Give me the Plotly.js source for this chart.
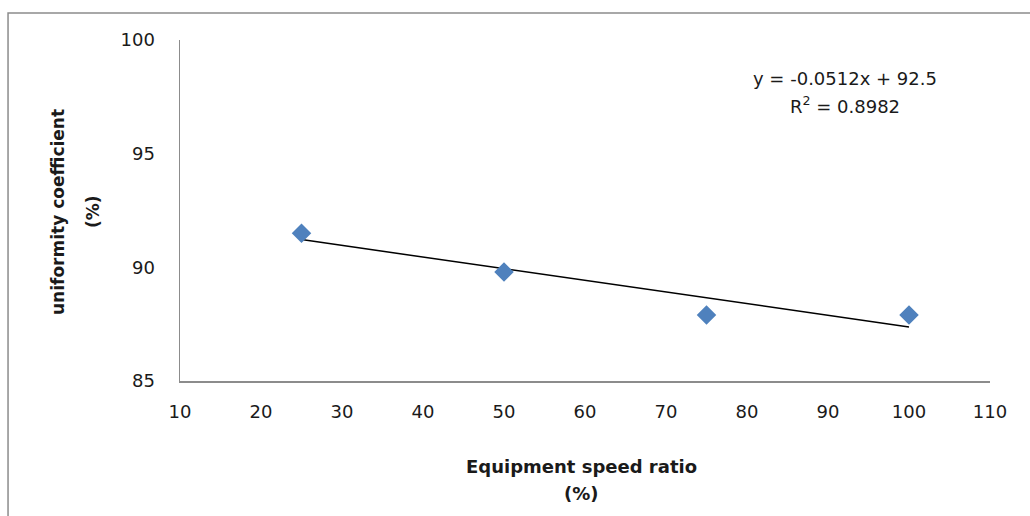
<!DOCTYPE html>
<html><head><meta charset="utf-8">
<script src="https://cdn.plot.ly/plotly-3.0.1.min.js"></script>
<style>html,body{margin:0;padding:0;background:#fff;}#chart{width:1030px;height:516px;}</style>
</head><body><div id="chart"></div>
<script>
const speedRatio = [25, 50, 75, 100];
const uniformity = [91.5, 89.8, 87.9, 87.9];
const trendSlope = -0.0512;
const trendIntercept = 92.5;
const trendR2 = 0.8982;
const xTicks = [10, 20, 30, 40, 50, 60, 70, 80, 90, 100, 110];
const yTicks = [85, 90, 95, 100];

const trendX = [speedRatio[0], speedRatio[speedRatio.length - 1]];
const trendY = trendX.map(x => trendSlope * x + trendIntercept);

const font = {family: 'DejaVu Sans, Verdana, sans-serif', size: 18, color: '#1a1a1a'};
const vfont = {family: 'DejaVu Sans, Verdana, sans-serif', size: 17, color: '#1a1a1a'};

const data = [
  {x: trendX, y: trendY, mode: 'lines', type: 'scatter',
   line: {color: '#000000', width: 1.5}, hoverinfo: 'skip', showlegend: false},
  {x: speedRatio, y: uniformity, mode: 'markers', type: 'scatter',
   marker: {symbol: 'diamond', size: 15, color: '#4F81BD'}, showlegend: false}
];

const layout = {
  width: 1030, height: 516,
  margin: {l: 180, r: 40, t: 40, b: 135},
  paper_bgcolor: '#ffffff', plot_bgcolor: '#ffffff',
  font: font,
  showlegend: false,
  xaxis: {range: [10, 110], tickvals: xTicks, ticktext: xTicks.map(String),
          showgrid: false, zeroline: false, showline: true, linecolor: '#8c8c8c', linewidth: 1.5,
          ticks: '', ticklabelstandoff: 14, tickfont: font},
  yaxis: {range: [85, 100], tickvals: yTicks, ticktext: yTicks.map(String),
          showgrid: false, zeroline: false, showline: true, linecolor: '#8c8c8c', linewidth: 1.5,
          ticks: '', ticklabelstandoff: 20, tickfont: font},
  shapes: [
    {type: 'rect', xref: 'paper', yref: 'paper', x0: -0.2123, x1: 1.2, y0: -0.6, y1: 1.0792,
     line: {color: '#8c8c8c', width: 1.5}, fillcolor: 'rgba(0,0,0,0)'}
  ],
  annotations: [
    {xref: 'paper', yref: 'paper', x: (845 - 180) / 810, y: (381 - 78) / 341, showarrow: false,
     text: 'y = -0.0512x + 92.5', font: font, xanchor: 'center', yanchor: 'middle'},
    {xref: 'paper', yref: 'paper', x: (845 - 180) / 810, y: (381 - 105) / 341, showarrow: false,
     text: 'R<sup>2</sup> = 0.8982', font: font, xanchor: 'center', yanchor: 'middle'},
    {xref: 'paper', yref: 'paper', x: (581 - 180) / 810, y: (381 - 466) / 341, showarrow: false,
     text: '<b>Equipment speed ratio</b>', font: font, xanchor: 'center', yanchor: 'middle'},
    {xref: 'paper', yref: 'paper', x: (581 - 180) / 810, y: (381 - 493) / 341, showarrow: false,
     text: '<b>(%)</b>', font: font, xanchor: 'center', yanchor: 'middle'},
    {xref: 'paper', yref: 'paper', x: (58 - 180) / 810, y: (381 - 212) / 341, showarrow: false,
     text: '<b>uniformity coefficient</b>', font: vfont, textangle: -90, xanchor: 'center', yanchor: 'middle'},
    {xref: 'paper', yref: 'paper', x: (93 - 180) / 810, y: (381 - 212) / 341, showarrow: false,
     text: '<b>(%)</b>', font: vfont, textangle: -90, xanchor: 'center', yanchor: 'middle'}
  ]
};

Plotly.newPlot('chart', data, layout, {displayModeBar: false, staticPlot: true});
</script></body></html>
